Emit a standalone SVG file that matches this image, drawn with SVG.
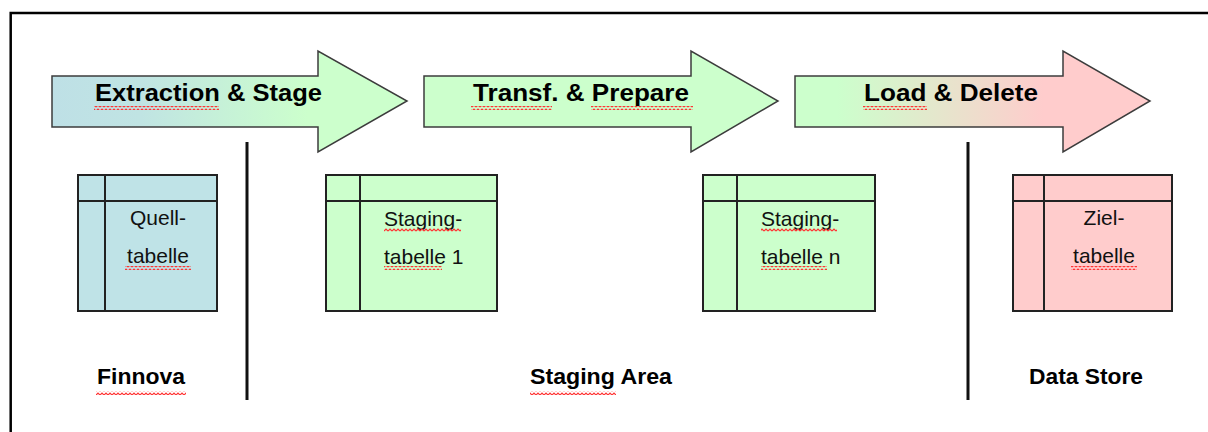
<svg xmlns="http://www.w3.org/2000/svg" width="1208" height="432" viewBox="0 0 1208 432">
  <defs>
    <linearGradient id="gradExtract" gradientUnits="userSpaceOnUse" x1="52" y1="0" x2="407" y2="0">
      <stop offset="0" stop-color="#bee0e6"/>
      <stop offset="0.25" stop-color="#c0e4e3"/>
      <stop offset="0.72" stop-color="#ccffcc"/>
      <stop offset="1" stop-color="#ccffcc"/>
    </linearGradient>
    <linearGradient id="gradLoad" gradientUnits="userSpaceOnUse" x1="795" y1="0" x2="1150" y2="0">
      <stop offset="0.12" stop-color="#ccffcc"/>
      <stop offset="0.7" stop-color="#ffcccc"/>
      <stop offset="1" stop-color="#ffcccc"/>
    </linearGradient>
    <pattern id="squiggle" patternUnits="userSpaceOnUse" x="0" y="0" width="4" height="4">
      <polyline points="0,3 2,1 4,3" fill="none" stroke="#ff3030" stroke-width="1.2"/>
    </pattern>
  </defs>
  <style>
    .arrow { stroke: #3c3c3c; stroke-width: 1.5; stroke-linejoin: miter; }
    .phase { font-family: "Liberation Sans", Arial, sans-serif; font-weight: bold; font-size: 23px; fill: #000; }
    .zone { font-family: "Liberation Sans", Arial, sans-serif; font-weight: bold; font-size: 22px; fill: #000; }
    .tbl rect, .tbl line { stroke: #222; stroke-width: 2; }
    .tbl text { font-family: "Liberation Sans", Arial, sans-serif; font-size: 21px; fill: #111; }
    .divider { stroke: #111; stroke-width: 3; }
    .sq { fill: url(#squiggle); }
  </style>

  <rect width="1208" height="432" fill="#ffffff"/>

  <!-- outer frame: top and left edges -->
  <path d="M10.7 432 V13 H1208" fill="none" stroke="#000" stroke-width="2.5"/>

  <!-- phase arrows -->
  <g id="phase-extract">
    <path class="arrow" fill="url(#gradExtract)" d="M52 76 H318 V51 L407 101 L318 152 V127 H52 Z"/>
    <text class="phase" x="95" y="101" textLength="227" lengthAdjust="spacingAndGlyphs">Extraction &amp; Stage</text>
    <rect class="sq" x="94" y="106" width="125" height="4"/>
  </g>
  <g id="phase-transform">
    <path class="arrow" fill="#ccffcc" d="M424 76 H691 V51 L778 101 L691 152 V127 H424 Z"/>
    <text class="phase" x="473" y="101" textLength="216" lengthAdjust="spacingAndGlyphs">Transf. &amp; Prepare</text>
    <rect class="sq" x="471" y="106" width="81" height="4"/>
    <rect class="sq" x="591" y="106" width="102" height="4"/>
  </g>
  <g id="phase-load">
    <path class="arrow" fill="url(#gradLoad)" d="M795 76 H1063 V51 L1150 101 L1063 152 V127 H795 Z"/>
    <text class="phase" x="864" y="101" textLength="174" lengthAdjust="spacingAndGlyphs">Load &amp; Delete</text>
    <rect class="sq" x="863" y="106" width="64" height="4"/>
  </g>

  <!-- zone dividers -->
  <g id="dividers">
    <line class="divider" x1="247" y1="142" x2="247" y2="400"/>
    <line class="divider" x1="968" y1="142" x2="968" y2="400"/>
  </g>

  <!-- tables -->
  <g id="table-source" class="tbl">
    <rect x="78" y="175" width="139" height="136" fill="#bfe3e7"/>
    <line x1="78" y1="201" x2="217" y2="201"/>
    <line x1="105" y1="175" x2="105" y2="311"/>
    <text x="158" y="225" text-anchor="middle">Quell-</text>
    <text x="158" y="263" text-anchor="middle">tabelle</text>
    <rect class="sq" x="125" y="266" width="66" height="4" style="stroke:none"/>
  </g>
  <g id="table-staging-1" class="tbl">
    <rect x="326" y="175" width="171" height="136" fill="#ccffcc"/>
    <line x1="326" y1="201" x2="497" y2="201"/>
    <line x1="360" y1="175" x2="360" y2="311"/>
    <text x="384" y="226">Staging-</text>
    <text x="384" y="264">tabelle 1</text>
    <rect class="sq" x="384" y="228" width="77" height="4" style="stroke:none"/>
    <rect class="sq" x="384" y="266" width="58" height="4" style="stroke:none"/>
  </g>
  <g id="table-staging-n" class="tbl">
    <rect x="703" y="175" width="172" height="136" fill="#ccffcc"/>
    <line x1="703" y1="201" x2="875" y2="201"/>
    <line x1="737" y1="175" x2="737" y2="311"/>
    <text x="761" y="226">Staging-</text>
    <text x="761" y="264">tabelle n</text>
    <rect class="sq" x="761" y="228" width="76" height="4" style="stroke:none"/>
    <rect class="sq" x="761" y="266" width="66" height="4" style="stroke:none"/>
  </g>
  <g id="table-target" class="tbl">
    <rect x="1013" y="175" width="159" height="136" fill="#ffcccc"/>
    <line x1="1013" y1="201" x2="1172" y2="201"/>
    <line x1="1044" y1="175" x2="1044" y2="311"/>
    <text x="1104" y="225" text-anchor="middle">Ziel-</text>
    <text x="1104" y="263" text-anchor="middle">tabelle</text>
    <rect class="sq" x="1071" y="266" width="66" height="4" style="stroke:none"/>
  </g>

  <!-- zone labels -->
  <g id="zone-finnova">
    <text class="zone" x="97" y="384" textLength="88" lengthAdjust="spacingAndGlyphs">Finnova</text>
    <rect class="sq" x="96" y="391" width="90" height="4"/>
  </g>
  <g id="zone-staging">
    <text class="zone" x="530" y="384" textLength="142" lengthAdjust="spacingAndGlyphs">Staging Area</text>
    <rect class="sq" x="530" y="391" width="86" height="4"/>
  </g>
  <g id="zone-datastore">
    <text class="zone" x="1029" y="384" textLength="114" lengthAdjust="spacingAndGlyphs">Data Store</text>
  </g>
</svg>
